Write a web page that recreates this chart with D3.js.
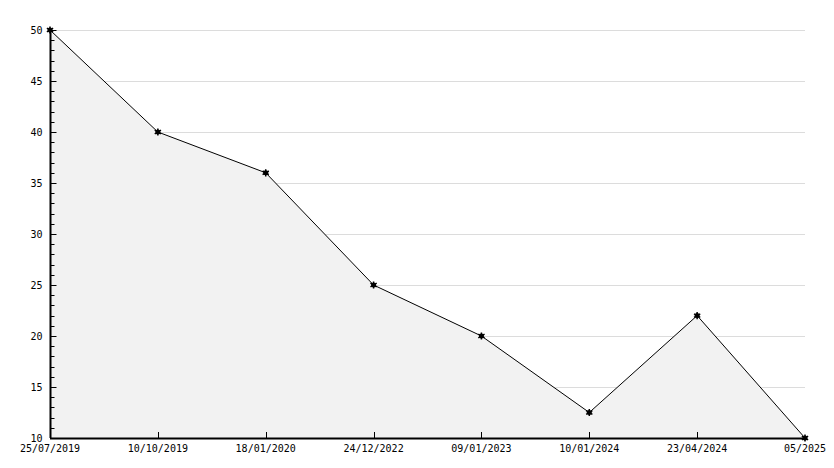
<!DOCTYPE html>
<html><head><meta charset="utf-8">
<script src="https://cdn.jsdelivr.net/npm/d3@7"></script>
<style>body{margin:0;background:#fff}svg{display:block}text{font-family:"DejaVu Sans Mono",monospace;font-size:10px;fill:#000}</style>
</head><body><svg id="c" width="834" height="468"></svg>
<script>
const categories = ["25/07/2019","10/10/2019","18/01/2020","24/12/2022","09/01/2023","10/01/2024","23/04/2024","05/2025"];
const values = [50, 40, 36, 25, 20, 12.5, 22, 10];
const yTicks = [10, 15, 20, 25, 30, 35, 40, 45, 50];
const yMinorTicks = d3.range(10, 51, 1);

const svg = d3.select("#c");
const x = d3.scalePoint().domain(categories).range([50, 805]).padding(0);
const y = d3.scaleLinear().domain([10, 50]).range([438, 30]);
const data = categories.map((c, i) => ({c, v: values[i]}));

// grid
svg.append("g").selectAll("line").data(yTicks).join("line")
  .attr("x1", 50).attr("x2", 805)
  .attr("y1", d => Math.round(y(d)) + 0.5).attr("y2", d => Math.round(y(d)) + 0.5)
  .attr("stroke", "#dcdcdc").attr("stroke-width", 1);

// area
svg.append("path").datum(data)
  .attr("d", d3.area().x(d => x(d.c)).y0(y(10)).y1(d => y(d.v)))
  .attr("fill", "#f2f2f2");

// line
svg.append("path").datum(data)
  .attr("d", d3.line().x(d => x(d.c)).y(d => y(d.v)))
  .attr("fill", "none").attr("stroke", "#000").attr("stroke-width", 1);

// y axis
const ya = svg.append("g").attr("transform", "translate(50.5,0)");
ya.append("line").attr("y1", 30).attr("y2", 438).attr("stroke", "#000").attr("stroke-width", 2);
ya.selectAll("line.minor").data(yMinorTicks.filter(d => d % 5 !== 0)).join("line")
  .attr("class", "minor").attr("x1", 0).attr("x2", 4)
  .attr("y1", d => Math.round(y(d)) + 0.5).attr("y2", d => Math.round(y(d)) + 0.5)
  .attr("stroke", "#000");
ya.selectAll("line.major").data(yTicks).join("line")
  .attr("class", "major").attr("x1", 0).attr("x2", 6)
  .attr("y1", d => Math.round(y(d)) + 0.5).attr("y2", d => Math.round(y(d)) + 0.5)
  .attr("stroke", "#000");
ya.selectAll("text").data(yTicks).join("text")
  .attr("x", -8).attr("y", d => y(d)).attr("dy", "0.35em")
  .attr("text-anchor", "end").text(d => d);

// x axis
const xa = svg.append("g");
xa.append("line").attr("x1", 50).attr("x2", 805).attr("y1", 438.5).attr("y2", 438.5)
  .attr("stroke", "#000").attr("stroke-width", 2);
xa.selectAll("line.t").data(categories.slice(1, -1)).join("line")
  .attr("class", "t").attr("x1", d => Math.round(x(d)) + 0.5).attr("x2", d => Math.round(x(d)) + 0.5)
  .attr("y1", 438).attr("y2", 432).attr("stroke", "#000");
xa.selectAll("text").data(categories).join("text")
  .attr("x", d => x(d)).attr("y", 452)
  .attr("text-anchor", "middle").text(d => d);

// markers
svg.append("g").selectAll("path").data(data).join("path")
  .attr("transform", d => `translate(${x(d.c)},${y(d.v)})`)
  .attr("d", d3.symbol().type(d3.symbolAsterisk).size(36))
  .attr("stroke", "#000").attr("stroke-width", 1.5).attr("fill", "none");
svg.append("g").selectAll("circle").data(data).join("circle")
  .attr("cx", d => x(d.c)).attr("cy", d => y(d.v)).attr("r", 2.5).attr("fill", "#000");
</script></body></html>
